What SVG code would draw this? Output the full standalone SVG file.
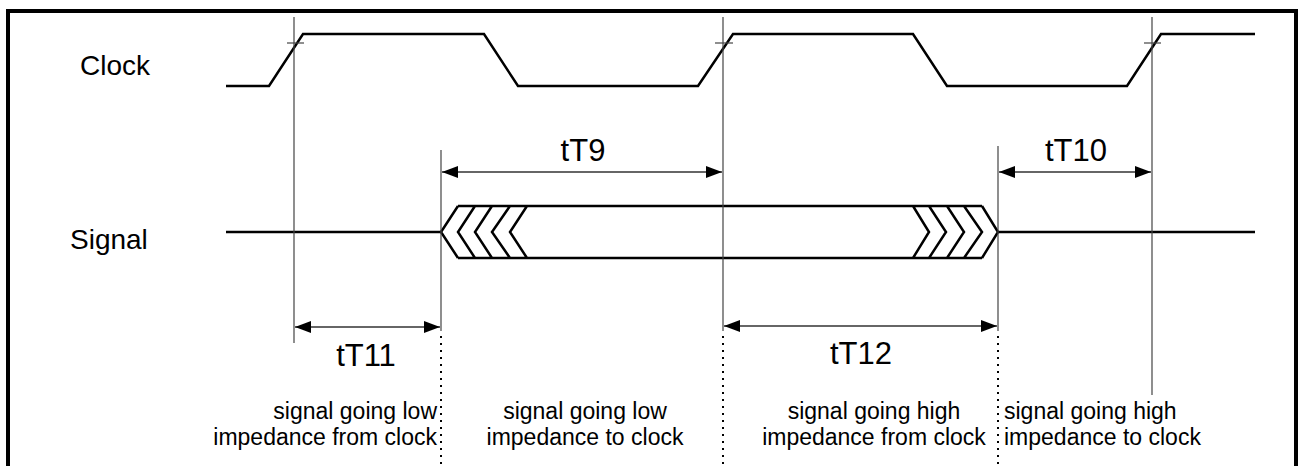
<svg xmlns="http://www.w3.org/2000/svg" width="1298" height="466" viewBox="0 0 1298 466">
<style>
.wave{fill:none;stroke:#000;stroke-width:2.5;stroke-linejoin:miter}
.guide{stroke:#444;stroke-width:1.2;fill:none}
.dot{stroke:#000;stroke-width:2;stroke-dasharray:2,5;fill:none}
.dim{stroke:#333;stroke-width:1.6;fill:none;marker-start:url(#ah);marker-end:url(#ah)}
.lbl{font-family:"Liberation Sans",Arial,sans-serif;font-size:28px;fill:#000}
.tl{font-family:"Liberation Sans",Arial,sans-serif;font-size:31px;fill:#000;text-anchor:middle}
.note{font-family:"Liberation Sans",Arial,sans-serif;font-size:23px;fill:#000}
</style>
<defs>
<marker id="ah" viewBox="0 0 16 12" refX="16" refY="6" markerWidth="16" markerHeight="12" markerUnits="userSpaceOnUse" orient="auto-start-reverse">
<path d="M0,0 L16,6 L0,12 Z" fill="#000"/>
</marker>
</defs>
<rect x="0" y="0" width="1298" height="466" fill="#fff"/>
<rect x="8" y="11" width="1288" height="470" fill="none" stroke="#000" stroke-width="4"/>

<g id="clock">
<text class="lbl" x="80" y="75">Clock</text>
<path class="wave" d="M226,86 L269,86 L303,34 L484,34 L518,86 L698,86 L733,34 L913,34 L947,86 L1127,86 L1161,34 L1255,34"/>
</g>

<g id="signal">
<text class="lbl" x="70" y="249">Signal</text>
<path class="wave" d="M226,232 L441,232"/>
<path class="wave" d="M998,232 L1255,232"/>
<path class="wave" d="M458,206 L982,206 M458,258 L982,258 M458,206 L441,232 L458,258 M475,206 L458,232 L475,258 M492,206 L475,232 L492,258 M510,206 L492,232 L510,258 M527,206 L510,232 L527,258 M913,206 L929,232 L913,258 M929,206 L946,232 L929,258 M947,206 L964,232 L947,258 M964,206 L982,232 L964,258 M982,206 L998,232 L982,258"/>
</g>

<g id="guides">
<line class="guide" x1="294" y1="17" x2="294" y2="343"/>
<line class="guide" x1="723" y1="17" x2="723" y2="331"/>
<line class="guide" x1="1152" y1="17" x2="1152" y2="395"/>
<line class="guide" x1="441" y1="150" x2="441" y2="331"/>
<line class="guide" x1="998" y1="146" x2="998" y2="331"/>
<line class="guide" x1="287" y1="43" x2="304" y2="43"/>
<line class="guide" x1="715" y1="43" x2="733" y2="43"/>
<line class="guide" x1="1144" y1="43" x2="1161" y2="43"/>
<line class="dot" x1="441" y1="336" x2="441" y2="466"/>
<line class="dot" x1="723" y1="336" x2="723" y2="466"/>
<line class="dot" x1="998" y1="336" x2="998" y2="466"/>
</g>

<g id="connectors">
<line class="dim" x1="442" y1="172" x2="722" y2="172"/>
<line class="dim" x1="999" y1="172" x2="1151" y2="172"/>
<line class="dim" x1="295" y1="327" x2="440" y2="327"/>
<line class="dim" x1="724" y1="326" x2="997" y2="326"/>
</g>

<g id="tT9"><text class="tl" x="583" y="161">tT9</text></g>
<g id="tT10"><text class="tl" x="1076" y="161">tT10</text></g>
<g id="tT11"><text class="tl" x="366" y="366">tT11</text></g>
<g id="tT12"><text class="tl" x="861" y="364">tT12</text></g>

<g id="note1">
<text class="note" x="437" y="419" text-anchor="end">signal going low</text>
<text class="note" x="437" y="445" text-anchor="end">impedance from clock</text>
</g>
<g id="note2">
<text class="note" x="585" y="419" text-anchor="middle">signal going low</text>
<text class="note" x="585" y="445" text-anchor="middle">impedance to clock</text>
</g>
<g id="note3">
<text class="note" x="874" y="419" text-anchor="middle">signal going high</text>
<text class="note" x="874" y="445" text-anchor="middle">impedance from clock</text>
</g>
<g id="note4">
<text class="note" x="1004" y="419">signal going high</text>
<text class="note" x="1004" y="445">impedance to clock</text>
</g>
</svg>
